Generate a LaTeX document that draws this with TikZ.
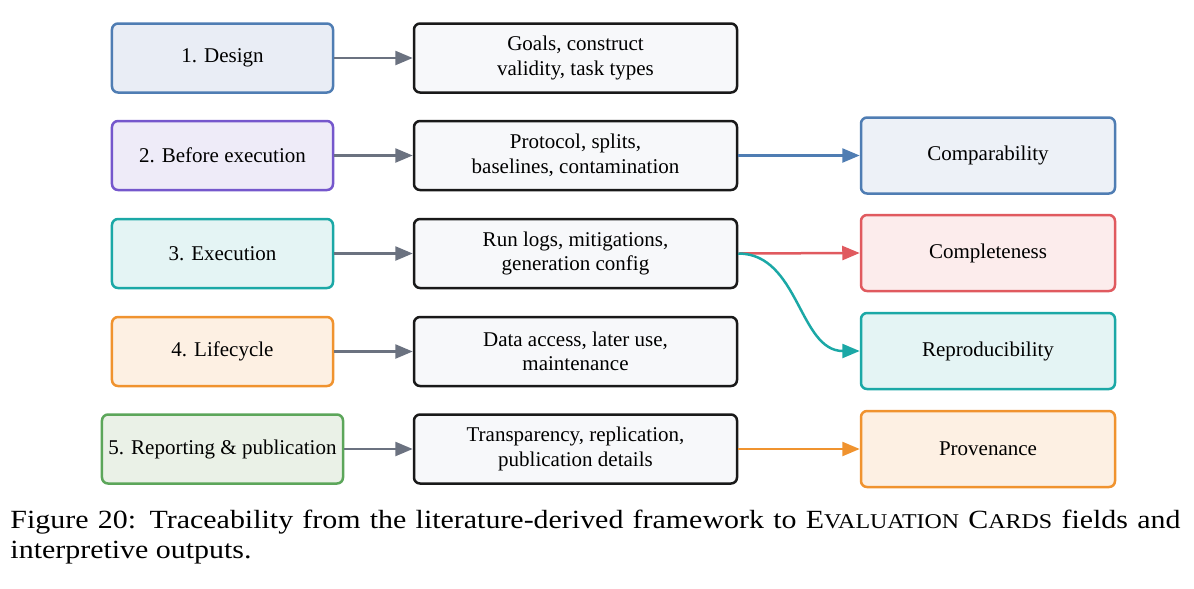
\documentclass[tikz,border=0pt]{standalone}
\usepackage{fontspec}
\setmainfont{Liberation Serif}
\usepackage{xcolor}
\usetikzlibrary{arrows.meta, positioning, calc}

\definecolor{dsgnline}{HTML}{4F7DB3}
\definecolor{dsgnfill}{HTML}{E9EDF5}
\definecolor{prepline}{HTML}{7557CC}
\definecolor{prepfill}{HTML}{EEEBF8}
\definecolor{execline}{HTML}{1BA8A6}
\definecolor{execfill}{HTML}{E4F4F4}
\definecolor{lifeline}{HTML}{F0932F}
\definecolor{lifefill}{HTML}{FDF0E3}
\definecolor{reptline}{HTML}{5CA65A}
\definecolor{reptfill}{HTML}{EAF1E7}
\definecolor{fieldfill}{HTML}{F7F8FA}
\definecolor{compline}{HTML}{E05A5F}
\definecolor{compfill}{HTML}{FCECEC}
\definecolor{greyarrow}{HTML}{6B7280}

\begin{document}
\begin{tikzpicture}[
    x=0.4pt, y=-0.4pt,
    every node/.style={font=\rmfamily\fontsize{8.4}{9.8}\selectfont},
    stage/.style={
        draw,
        rounded corners=2.4pt,
        line width=1pt,
        align=center,
        minimum width=88.4pt,
        minimum height=27.6pt,
        inner sep=2pt
    },
    field/.style={
        draw=black!90,
        fill=fieldfill,
        rounded corners=2.4pt,
        line width=1pt,
        align=center,
        minimum width=129.2pt,
        minimum height=27.6pt,
        inner sep=2pt
    },
    outcome/.style={
        draw,
        rounded corners=2.4pt,
        line width=1pt,
        align=center,
        minimum width=101.6pt,
        minimum height=30.4pt,
        inner sep=2pt
    },
    arrow/.style={-{Triangle[length=7pt, width=5.6pt]}, line width=1pt}
]
\useasboundingbox (0,0) rectangle (1194,588);

% framework stages
\node[stage, draw=dsgnline, fill=dsgnfill] (design) at (222.5,58) {1. Design};
\node[stage, draw=prepline, fill=prepfill] (before) at (222.5,155.5) {2. Before execution};
\node[stage, draw=execline, fill=execfill] (execution) at (222.5,253.5) {3. Execution};
\node[stage, draw=lifeline, fill=lifefill] (lifecycle) at (222.5,351.5) {4. Lifecycle};
\node[stage, draw=reptline, fill=reptfill, minimum width=96.4pt] (reporting) at (222.5,449) {5. Reporting \& publication};

% card fields
\node[field] (goals) at (575.5,58) {Goals, construct\\validity, task types};
\node[field] (protocol) at (575.5,155.5) {Protocol, splits,\\baselines, contamination};
\node[field] (runlogs) at (575.5,253.5) {Run logs, mitigations,\\generation config};
\node[field] (access) at (575.5,351.5) {Data access, later use,\\maintenance};
\node[field] (transp) at (575.5,449) {Transparency, replication,\\publication details};

% interpretive outputs
\node[outcome, draw=dsgnline, fill=dsgnfill!80!white] (compar) at (988,155.5) {Comparability};
\node[outcome, draw=compline, fill=compfill] (complete) at (988,253) {Completeness};
\node[outcome, draw=execline, fill=execfill] (reprod) at (988,351) {Reproducibility};
\node[outcome, draw=lifeline, fill=lifefill] (proven) at (988,449) {Provenance};

\draw[arrow, greyarrow] (design) -- (goals);
\draw[arrow, greyarrow] (before) -- (protocol);
\draw[arrow, greyarrow] (execution) -- (runlogs);
\draw[arrow, greyarrow] (lifecycle) -- (access);
\draw[arrow, greyarrow] (reporting) -- (transp);

\draw[arrow, dsgnline] (protocol) -- (compar);
\draw[arrow, compline] (runlogs.east) -- (complete.west);
\draw[arrow, execline] (runlogs.east) to[out=0, in=180] (reprod.west);
\draw[arrow, lifeline] (transp) -- (proven);

\node[anchor=north west, inner sep=0pt, align=left, font=\rmfamily\fontsize{10.5}{12}\selectfont\addfontfeatures{FakeStretch=1.14}] (caption) at (10,510)
{\makebox[468pt][s]{Figure 20: Traceability from the literature-derived framework to E{\fontsize{8.4}{12}\selectfont VALUATION} C{\fontsize{8.4}{12}\selectfont ARDS} fields and}\\interpretive outputs.};

\end{tikzpicture}
\end{document}
